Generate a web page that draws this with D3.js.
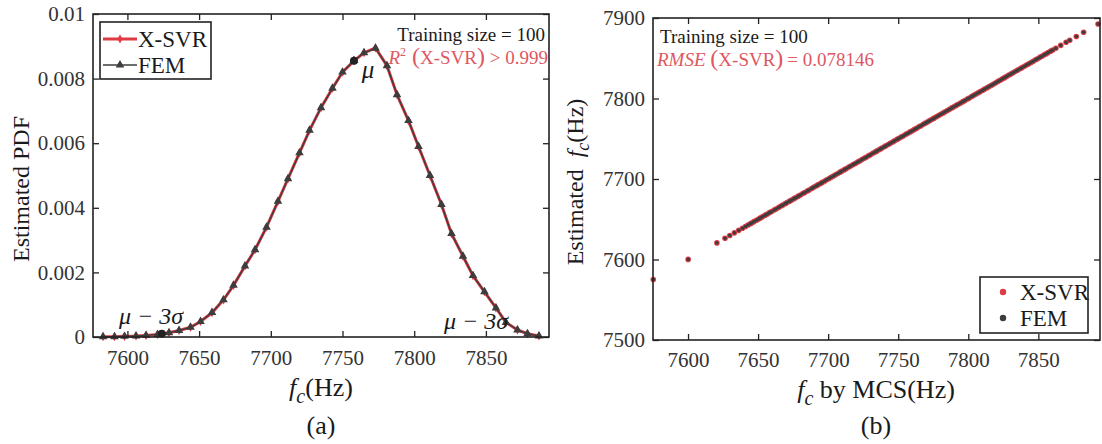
<!DOCTYPE html>
<html>
<head>
<meta charset="utf-8">
<script src="https://cdn.jsdelivr.net/npm/d3@7"></script>
<style>
  body { margin: 0; background: #fff; }
  svg text { font-family: "Liberation Serif", "Times New Roman", serif; fill: #1a1a1a; }
  .tick line { stroke: #222; stroke-width: 1.3; }
  .tick text { font-size: 21px; fill: #333; }
</style>
</head>
<body>
<script>
// ---- data ----
// (a) estimated PDF of f_c
var fcGrid = [7583, 7591, 7598, 7606, 7613, 7621, 7629, 7636, 7644, 7651, 7659, 7667, 7674, 7682,
              7689, 7697, 7705, 7712, 7720, 7727, 7735, 7743, 7750, 7758, 7765, 7773, 7781, 7788,
              7796, 7803, 7811, 7819, 7826, 7834, 7841, 7849, 7857, 7864, 7872, 7879, 7887];
var pdfSvr = [0.00001, 0.00001, 0.00002, 0.00003, 0.00005, 0.00008, 0.00013, 0.0002, 0.0003, 0.00048,
              0.00075, 0.00115, 0.0016, 0.0022, 0.0027, 0.0034, 0.0042, 0.0049, 0.0057, 0.0064,
              0.0071, 0.0077, 0.0082, 0.00855, 0.0088, 0.00895, 0.0084, 0.0075, 0.0067, 0.0059,
              0.0050, 0.0041, 0.0032, 0.0025, 0.0019, 0.0014, 0.0009, 0.00045, 0.00022, 0.0001, 0.00003];
var pdfFem = [0.00001, 0.00001, 0.00002, 0.00003, 0.00005, 0.00008, 0.00013, 0.0002, 0.0003, 0.00048,
              0.00076, 0.00115, 0.0016, 0.0022, 0.0027, 0.0034, 0.0042, 0.0049, 0.0057, 0.0064,
              0.0071, 0.0077, 0.0082, 0.00856, 0.0088, 0.00894, 0.0084, 0.0075, 0.0067, 0.0059,
              0.0050, 0.0041, 0.0032, 0.0025, 0.0019, 0.0014, 0.0009, 0.00045, 0.00022, 0.0001, 0.00003];
var muPoint = [7758, 0.00855];
var lowPoint = [7624, 0.0001];

// (b) estimated f_c against MCS f_c (estimates lie on the diagonal)
var mcsFc = [7575.2, 7600.1, 7620.6, 7626.4, 7629.8, 7633.1, 7636.2, 7638.9, 7641.0, 7642.8, 7644.5,
  7645.3, 7647.0, 7648.8, 7650.4, 7651.7, 7653.3, 7655.1, 7656.6, 7658.2, 7659.7, 7661.5, 7662.8,
  7664.6, 7666.1, 7667.6, 7669.4, 7670.7, 7672.5, 7673.9, 7675.6, 7677.1, 7678.7, 7680.2, 7681.9,
  7683.3, 7685.1, 7686.4, 7688.2, 7689.6, 7691.3, 7692.7, 7694.5, 7695.8, 7697.6, 7699.0, 7700.7,
  7702.1, 7703.8, 7705.2, 7706.9, 7708.5, 7709.9, 7711.6, 7713.0, 7714.8, 7716.1, 7717.9, 7719.3,
  7721.0, 7722.4, 7724.1, 7725.7, 7727.1, 7728.8, 7730.2, 7731.9, 7733.5, 7734.9, 7736.6, 7738.0,
  7739.8, 7741.1, 7742.9, 7744.3, 7746.0, 7747.4, 7749.2, 7750.6, 7752.3, 7753.8, 7755.4, 7756.9,
  7758.5, 7760.0, 7761.6, 7763.1, 7764.8, 7766.2, 7767.9, 7769.4, 7771.0, 7772.5, 7774.2, 7775.6,
  7777.3, 7778.8, 7780.4, 7782.0, 7783.5, 7785.1, 7786.6, 7788.3, 7789.7, 7791.4, 7792.9, 7794.5,
  7796.1, 7797.6, 7799.3, 7800.7, 7802.4, 7803.9, 7805.5, 7807.1, 7808.6, 7810.3, 7811.7, 7813.4,
  7814.9, 7816.5, 7818.1, 7819.6, 7821.3, 7822.7, 7824.4, 7825.9, 7827.5, 7829.1, 7830.6, 7832.2,
  7833.8, 7835.3, 7837.0, 7838.4, 7840.1, 7841.6, 7843.2, 7844.8, 7846.3, 7848.0, 7849.4, 7851.1,
  7852.5, 7854.2, 7855.6, 7857.0, 7858.8, 7860.3, 7862.5, 7866.0, 7869.8, 7872.4, 7877.1, 7882.3, 7892.6];

var pdfTicks = [0, 0.002, 0.004, 0.006, 0.008, 0.01];
var fcTicks = [7600, 7650, 7700, 7750, 7800, 7850];
var estTicks = [7500, 7600, 7700, 7800, 7900];

var red = "#de3b45", dark = "#3d3d3d", redText = "#e0575f";

var svg = d3.select("body").append("svg")
    .attr("width", 1102)
    .attr("height", 444);

// ---------- panel (a) ----------
var xA = d3.scaleLinear().domain([7576, 7894]).range([93, 549]);
var yA = d3.scaleLinear().domain([0, 0.01]).range([337, 14]);

var line = d3.line()
    .x(d => xA(d[0]))
    .y(d => yA(d[1]));

var svrPts = fcGrid.map((f, i) => [f, pdfSvr[i]]);
var femPts = fcGrid.map((f, i) => [f, pdfFem[i]]);

svg.append("path")
    .datum(svrPts)
    .attr("fill", "none")
    .attr("stroke", red)
    .attr("stroke-width", 3)
    .attr("d", line);

svg.selectAll(".svrMark")
    .data(svrPts)
    .enter().append("path")
    .attr("class", "svrMark")
    .attr("transform", d => "translate(" + xA(d[0]) + "," + yA(d[1]) + ")")
    .attr("d", d3.symbol().type(d3.symbolDiamond).size(24))
    .attr("fill", red);

svg.append("path")
    .datum(femPts)
    .attr("fill", "none")
    .attr("stroke", dark)
    .attr("stroke-width", 1.4)
    .attr("d", line);

svg.selectAll(".femMark")
    .data(femPts)
    .enter().append("path")
    .attr("class", "femMark")
    .attr("transform", d => "translate(" + xA(d[0]) + "," + yA(d[1]) + ")")
    .attr("d", d3.symbol().type(d3.symbolTriangle).size(32))
    .attr("fill", dark);

// highlighted points
[muPoint, lowPoint].forEach(function(p) {
    svg.append("circle")
        .attr("cx", xA(p[0]))
        .attr("cy", yA(p[1]))
        .attr("r", 4)
        .attr("fill", "#222");
});

// axes with inward ticks on all four sides
svg.append("g")
    .attr("transform", "translate(0,337)")
    .call(d3.axisBottom(xA).tickValues(fcTicks).tickSizeInner(-6).tickSizeOuter(0).tickPadding(13)
        .tickFormat(d3.format("d")))
    .call(g => g.select(".domain").remove());
svg.append("g")
    .attr("transform", "translate(0,14)")
    .call(d3.axisTop(xA).tickValues(fcTicks).tickSizeInner(-6).tickSizeOuter(0).tickFormat(""))
    .call(g => g.select(".domain").remove());
svg.append("g")
    .attr("transform", "translate(93,0)")
    .call(d3.axisLeft(yA).tickValues(pdfTicks).tickSizeInner(-6).tickSizeOuter(0).tickPadding(8)
        .tickFormat(d => d === 0 ? "0" : d3.format(".3~f")(d)))
    .call(g => g.select(".domain").remove());
svg.append("g")
    .attr("transform", "translate(549,0)")
    .call(d3.axisRight(yA).tickValues(pdfTicks).tickSizeInner(-6).tickSizeOuter(0).tickFormat(""))
    .call(g => g.select(".domain").remove());

svg.append("rect")
    .attr("x", 93).attr("y", 14)
    .attr("width", 549 - 93).attr("height", 337 - 14)
    .attr("fill", "none")
    .attr("stroke", "#222")
    .attr("stroke-width", 1.6);

// legend (a)
var legA = svg.append("g");
legA.append("rect")
    .attr("x", 100).attr("y", 22).attr("width", 111).attr("height", 57)
    .attr("fill", "#fff").attr("stroke", "#222").attr("stroke-width", 1.6);
legA.append("line").attr("x1", 103).attr("x2", 137).attr("y1", 39).attr("y2", 39)
    .attr("stroke", red).attr("stroke-width", 3);
legA.append("path").attr("transform", "translate(120,39)")
    .attr("d", d3.symbol().type(d3.symbolDiamond).size(24)).attr("fill", red);
legA.append("line").attr("x1", 103).attr("x2", 137).attr("y1", 65).attr("y2", 65)
    .attr("stroke", dark).attr("stroke-width", 1.4);
legA.append("path").attr("transform", "translate(120,65)")
    .attr("d", d3.symbol().type(d3.symbolTriangle).size(32)).attr("fill", dark);
legA.append("text").attr("x", 138).attr("y", 47).attr("font-size", 23).text("X-SVR");
legA.append("text").attr("x", 138).attr("y", 73).attr("font-size", 23).text("FEM");

// annotations (a)
svg.append("text")
    .attr("x", 545).attr("y", 41).attr("text-anchor", "end").attr("font-size", 19)
    .text("Training size = 100");
var r2 = svg.append("text")
    .attr("x", 548).attr("y", 64).attr("text-anchor", "end").attr("font-size", 19)
    .style("fill", redText);
r2.append("tspan").attr("font-style", "italic").style("fill", redText).text("R");
r2.append("tspan").attr("font-size", 12).attr("dy", -8).style("fill", redText).text("2");
r2.append("tspan").attr("font-size", 24).attr("dy", 8).style("fill", redText).text(" (");
r2.append("tspan").style("fill", redText).text("X-SVR");
r2.append("tspan").attr("font-size", 24).style("fill", redText).text(")");
r2.append("tspan").style("fill", redText).text(" > 0.999");

svg.append("text")
    .attr("x", 368).attr("y", 78).attr("text-anchor", "middle")
    .attr("font-size", 25).attr("font-style", "italic").text("μ");
svg.append("text")
    .attr("x", 151).attr("y", 324).attr("text-anchor", "middle")
    .attr("font-size", 24).attr("font-style", "italic").text("μ − 3σ");
svg.append("text")
    .attr("x", 476).attr("y", 329).attr("text-anchor", "middle")
    .attr("font-size", 24).attr("font-style", "italic").text("μ − 3σ");

// axis titles (a)
svg.append("text")
    .attr("transform", "translate(29,189) rotate(-90)")
    .attr("text-anchor", "middle").attr("font-size", 24)
    .text("Estimated PDF");
var xtA = svg.append("text")
    .attr("x", 321).attr("y", 396).attr("text-anchor", "middle").attr("font-size", 26);
xtA.append("tspan").attr("font-style", "italic").text("f");
xtA.append("tspan").attr("font-style", "italic").attr("font-size", 20).attr("dy", 7).text("c");
xtA.append("tspan").attr("dy", -7).text("(Hz)");
svg.append("text")
    .attr("x", 321).attr("y", 434).attr("text-anchor", "middle").attr("font-size", 26)
    .text("(a)");

// ---------- panel (b) ----------
var xB = d3.scaleLinear().domain([7575, 7894]).range([653, 1100]);
var yB = d3.scaleLinear().domain([7500, 7900]).range([340, 18]);

var plotB = svg.append("g");
plotB.selectAll(".svrDot")
    .data(mcsFc)
    .enter().append("circle")
    .attr("class", "svrDot")
    .attr("cx", d => xB(d))
    .attr("cy", d => yB(d))
    .attr("r", 2.8)
    .attr("fill", red);
plotB.selectAll(".femDot")
    .data(mcsFc)
    .enter().append("circle")
    .attr("class", "femDot")
    .attr("cx", d => xB(d))
    .attr("cy", d => yB(d))
    .attr("r", 1.8)
    .attr("fill", dark);

svg.append("g")
    .attr("transform", "translate(0,340)")
    .call(d3.axisBottom(xB).tickValues(fcTicks).tickSizeInner(-6).tickSizeOuter(0).tickPadding(12)
        .tickFormat(d3.format("d")))
    .call(g => g.select(".domain").remove());
svg.append("g")
    .attr("transform", "translate(0,18)")
    .call(d3.axisTop(xB).tickValues(fcTicks).tickSizeInner(-6).tickSizeOuter(0).tickFormat(""))
    .call(g => g.select(".domain").remove());
svg.append("g")
    .attr("transform", "translate(653,0)")
    .call(d3.axisLeft(yB).tickValues(estTicks).tickSizeInner(-6).tickSizeOuter(0).tickPadding(8)
        .tickFormat(d3.format("d")))
    .call(g => g.select(".domain").remove());
svg.append("g")
    .attr("transform", "translate(1100,0)")
    .call(d3.axisRight(yB).tickValues(estTicks).tickSizeInner(-6).tickSizeOuter(0).tickFormat(""))
    .call(g => g.select(".domain").remove());

svg.append("rect")
    .attr("x", 653).attr("y", 18)
    .attr("width", 1100 - 653).attr("height", 340 - 18)
    .attr("fill", "none")
    .attr("stroke", "#222")
    .attr("stroke-width", 1.6);

// legend (b)
var legB = svg.append("g");
legB.append("rect")
    .attr("x", 980).attr("y", 277).attr("width", 108).attr("height", 56)
    .attr("fill", "#fff").attr("stroke", "#222").attr("stroke-width", 1.6);
legB.append("circle").attr("cx", 1003).attr("cy", 292).attr("r", 3.2).attr("fill", red);
legB.append("circle").attr("cx", 1003).attr("cy", 318).attr("r", 3.2).attr("fill", dark);
legB.append("text").attr("x", 1020).attr("y", 300).attr("font-size", 23).text("X-SVR");
legB.append("text").attr("x", 1020).attr("y", 326).attr("font-size", 23).text("FEM");

// annotations (b)
svg.append("text")
    .attr("x", 660).attr("y", 43).attr("font-size", 19)
    .text("Training size = 100");
var rm = svg.append("text")
    .attr("x", 657).attr("y", 66).attr("font-size", 19).style("fill", redText);
rm.append("tspan").attr("font-style", "italic").style("fill", redText).text("RMSE");
rm.append("tspan").attr("font-size", 24).style("fill", redText).text("\u2009(");
rm.append("tspan").style("fill", redText).text("X-SVR");
rm.append("tspan").attr("font-size", 24).style("fill", redText).text(")");
rm.append("tspan").style("fill", redText).text("\u2009= 0.078146");

// axis titles (b)
var ytB = svg.append("text")
    .attr("transform", "translate(583,182) rotate(-90)")
    .attr("text-anchor", "middle").attr("font-size", 24);
ytB.append("tspan").text("Estimated\u00a0\u00a0");
ytB.append("tspan").attr("font-style", "italic").text("f");
ytB.append("tspan").attr("font-style", "italic").attr("font-size", 18).attr("dy", 6).text("c");
ytB.append("tspan").attr("dy", -6).text("(Hz)");

var xtB = svg.append("text")
    .attr("x", 876).attr("y", 398).attr("text-anchor", "middle").attr("font-size", 26);
xtB.append("tspan").attr("font-style", "italic").text("f");
xtB.append("tspan").attr("font-style", "italic").attr("font-size", 20).attr("dy", 7).text("c");
xtB.append("tspan").attr("dy", -7).text(" by MCS(Hz)");
svg.append("text")
    .attr("x", 876).attr("y", 434).attr("text-anchor", "middle").attr("font-size", 26)
    .text("(b)");
</script>
</body>
</html>
